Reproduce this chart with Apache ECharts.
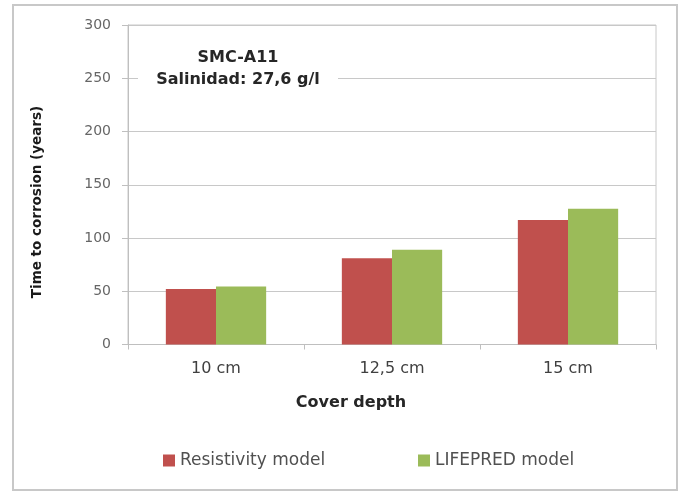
<!DOCTYPE html>
<html>
<head>
<meta charset="utf-8">
<script src="https://cdn.jsdelivr.net/npm/echarts@6/dist/echarts.min.js"></script>
<style>
html,body{margin:0;padding:0;background:#fff;}
#c{width:682px;height:492px;}
</style>
</head>
<body>
<div id="c"></div>
<script>
const categories = ['10 cm', '12,5 cm', '15 cm'];
const resistivity = [52, 81, 117];
const lifepred = [54.5, 89, 127.5];
const yTicks = { min: 0, max: 300, interval: 50 };
const seriesNames = ['Resistivity model', 'LIFEPRED model'];
const yTitle = 'Time to corrosion (years)';
const xTitle = 'Cover depth';
const noteLines = ['SMC-A11', 'Salinidad: 27,6 g/l'];

const FONT = 'DejaVu Sans';
const chart = echarts.init(document.getElementById('c'), null, { renderer: 'canvas' });
chart.setOption({
  backgroundColor: '#ffffff',
  animation: false,
  grid: {
    left: 128, right: 26, top: 25, bottom: 147.5,
    show: true, borderColor: '#c8c8c8', borderWidth: 1
  },
  legend: [
    {
      data: [seriesNames[0]], left: 158, top: 447,
      itemWidth: 12, itemHeight: 12, icon: 'rect', itemGap: 5,
      textStyle: { fontFamily: FONT, fontSize: 17, color: '#505050' }
    },
    {
      data: [seriesNames[1]], left: 413, top: 447,
      itemWidth: 12, itemHeight: 12, icon: 'rect', itemGap: 5,
      textStyle: { fontFamily: FONT, fontSize: 17, color: '#505050' }
    }
  ],
  xAxis: {
    type: 'category',
    data: categories,
    axisLine: { show: true, lineStyle: { color: '#bfbfbf', width: 1 } },
    axisTick: { show: true, length: 5, alignWithLabel: false, lineStyle: { color: '#bfbfbf' } },
    axisLabel: { fontFamily: FONT, fontSize: 16, color: '#404040', margin: 16 },
    splitLine: { show: false }
  },
  yAxis: {
    type: 'value',
    min: yTicks.min, max: yTicks.max, interval: yTicks.interval,
    axisLine: { show: true, lineStyle: { color: '#bfbfbf', width: 1 } },
    axisTick: { show: true, length: 6, lineStyle: { color: '#bfbfbf' } },
    axisLabel: { fontFamily: FONT, fontSize: 14, color: '#666666', margin: 17 },
    splitLine: { show: true, lineStyle: { color: '#c8c8c8', width: 1 } }
  },
  series: [
    {
      name: seriesNames[0], type: 'bar', data: resistivity,
      itemStyle: { color: '#C0504D' },
      barGap: '0%', barCategoryGap: '43%'
    },
    {
      name: seriesNames[1], type: 'bar', data: lifepred,
      itemStyle: { color: '#9BBB59' },
      barGap: '0%', barCategoryGap: '43%'
    }
  ],
  graphic: [
    {
      type: 'rect', z: 1, silent: true,
      shape: { x: 13, y: 5, width: 664, height: 485 },
      style: { fill: 'none', stroke: '#c8c8c8', lineWidth: 2 }
    },
    {
      type: 'rect', z: 50, silent: true,
      shape: { x: 138, y: 42, width: 200, height: 50 },
      style: { fill: '#ffffff' }
    },
    {
      type: 'text', z: 60, silent: true,
      style: {
        x: 238, y: 58, text: noteLines[0], align: 'center', verticalAlign: 'middle',
        font: 'bold 16px "DejaVu Sans"', fill: '#262626'
      }
    },
    {
      type: 'text', z: 60, silent: true,
      style: {
        x: 238, y: 80, text: noteLines[1], align: 'center', verticalAlign: 'middle',
        font: 'bold 16px "DejaVu Sans"', fill: '#262626'
      }
    },
    {
      type: 'text', z: 60, silent: true,
      x: 37, y: 202, rotation: Math.PI / 2,
      style: {
        x: 0, y: 0, text: yTitle, align: 'center', verticalAlign: 'middle',
        font: 'bold 13.5px "DejaVu Sans"', fill: '#1a1a1a'
      }
    },
    {
      type: 'text', z: 60, silent: true,
      style: {
        x: 351, y: 403, text: xTitle, align: 'center', verticalAlign: 'middle',
        font: 'bold 16px "DejaVu Sans"', fill: '#262626'
      }
    }
  ]
});
</script>
</body>
</html>
